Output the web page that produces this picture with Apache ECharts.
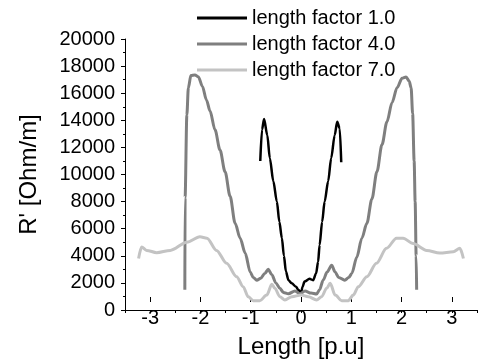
<!DOCTYPE html>
<html>
<head>
<meta charset="utf-8">
<script src="https://cdn.jsdelivr.net/npm/echarts@6/dist/echarts.min.js"></script>
<style>html,body{margin:0;padding:0;background:#fff}#c{width:483px;height:364px}</style>
</head>
<body>
<div id="c"></div>
<script>
const seriesNames = ['length factor 1.0', 'length factor 4.0', 'length factor 7.0'];
const seriesColors = ['#000000', '#7f7f7f', '#c3c3c3'];

const x1 = [-0.81,-0.775,-0.735,-0.67,-0.62,-0.55,-0.48,-0.43,-0.38,-0.34,-0.30,-0.25,-0.185,-0.10,-0.05,0,0.03,0.07,0.17,0.24,0.30,0.34,0.37,0.42,0.47,0.54,0.60,0.67,0.72,0.77,0.80];
const y1 = [11000,13300,14100,12900,11200,9500,8000,6500,5300,4000,2850,2200,1970,1720,1480,1230,1700,2100,2300,2200,2700,3560,4800,6500,8000,9500,11200,12900,13900,13400,10900];

const x4 = [-2.31,-2.305,-2.27,-2.24,-2.19,-2.11,-2.04,-1.96,-1.88,-1.81,-1.71,-1.61,-1.51,-1.41,-1.31,-1.21,-1.11,-1.01,-0.95,-0.88,-0.80,-0.72,-0.65,-0.58,-0.50,-0.42,-0.35,-0.25,-0.12,-0.02,0.08,0.20,0.31,0.37,0.44,0.52,0.61,0.68,0.75,0.87,0.95,1.01,1.11,1.21,1.31,1.41,1.51,1.61,1.71,1.81,1.91,2.01,2.09,2.15,2.19,2.22,2.25,2.27,2.29,2.30];
const y4 = [1500,8300,14400,16400,17300,17350,17200,16500,15500,14700,13300,11800,10200,8400,6400,5300,4200,2800,2400,2200,2350,2700,3000,2600,2000,1600,1300,1200,1400,1200,1400,1250,1180,1500,2200,2800,3300,2800,2400,2200,2400,2700,3900,5300,6400,8200,10200,12200,13900,15300,16400,17100,17200,16900,16400,14500,11000,8000,4000,1500];

const x7 = [-3.23,-3.17,-3.07,-2.87,-2.6,-2.27,-2.01,-1.87,-1.68,-1.48,-1.28,-1.15,-1.05,-0.95,-0.82,-0.68,-0.58,-0.52,-0.42,-0.32,-0.18,0,0.15,0.31,0.41,0.51,0.58,0.68,0.81,0.94,1.04,1.14,1.31,1.50,1.70,1.90,2.03,2.23,2.50,2.76,3.03,3.16,3.23];
const y7 = [3800,4650,4400,4230,4400,5000,5400,5300,4400,3450,2460,1720,980,690,690,1100,1900,1600,980,740,980,1100,980,740,980,1600,1970,1100,690,690,1100,1720,2460,3450,4550,5300,5300,4900,4400,4200,4300,4550,3800];

const yTicks = {min: 0, max: 20000, interval: 2000};
const xTicks = {min: -3, max: 3, interval: 1};
const xExtent = {min: -3.5, max: 3.5, minorInterval: 0.5};

const zip = (xs, ys) => xs.map((x, i) => [x, ys[i]]);
const FONT = 'Liberation Sans';

const chart = echarts.init(document.getElementById('c'));
const gridLeft = 125, gridRight = 6;
const plotW = 483 - gridLeft - gridRight;
const half = plotW * 0.5 / (xExtent.max - xExtent.min);

chart.setOption({
  animation: false,
  backgroundColor: '#ffffff',
  textStyle: {fontFamily: FONT, color: '#000'},
  legend: {
    orient: 'vertical', left: 192, top: 3, padding: 5,
    itemWidth: 50, itemHeight: 3, itemGap: 6,
    textStyle: {fontFamily: FONT, fontSize: 20, lineHeight: 20, color: '#000'},
    data: seriesNames.map((n) => ({name: n, icon: 'rect'}))
  },
  grid: [
    {left: gridLeft, right: gridRight, top: 39, bottom: 54},
    {left: gridLeft + half, right: gridRight + half, top: 39, bottom: 54}
  ],
  xAxis: [
    {
      type: 'value', gridIndex: 0, min: xExtent.min, max: xExtent.max, interval: xExtent.minorInterval,
      axisLine: {show: true, onZero: false, lineStyle: {color: '#000', width: 1}},
      axisTick: {show: true, length: 3, lineStyle: {color: '#000'}},
      axisLabel: {show: false},
      splitLine: {show: false}
    },
    {
      type: 'value', gridIndex: 1, min: xTicks.min, max: xTicks.max, interval: xTicks.interval,
      axisLine: {show: false, onZero: false},
      axisTick: {show: true, length: 5, lineStyle: {color: '#000'}},
      axisLabel: {show: true, fontSize: 20, color: '#000', fontFamily: FONT, margin: 11},
      splitLine: {show: false},
      name: 'Length [p.u]', nameLocation: 'middle', nameGap: 38,
      nameTextStyle: {fontSize: 24, color: '#000', fontFamily: FONT}
    }
  ],
  yAxis: [
    {
      type: 'value', gridIndex: 0, min: yTicks.min, max: yTicks.max, interval: yTicks.interval,
      axisLine: {show: true, onZero: false, lineStyle: {color: '#000', width: 1}},
      axisTick: {show: true, length: 4, lineStyle: {color: '#000'}},
      minorTick: {show: true, splitNumber: 2, length: 2, lineStyle: {color: '#000'}},
      axisLabel: {fontSize: 20, color: '#000', fontFamily: FONT, margin: 10, formatter: (v) => String(v)},
      splitLine: {show: false},
      name: "R' [Ohm/m]", nameLocation: 'middle', nameGap: 84,
      nameTextStyle: {fontSize: 24, color: '#000', fontFamily: FONT}
    },
    {type: 'value', gridIndex: 1, min: 0, max: 1, show: false,
     axisLine: {show: false, onZero: false}, axisTick: {show: false}, axisLabel: {show: false}, splitLine: {show: false}}
  ],
  series: [
    {name: seriesNames[0], type: 'line', data: zip(x1, y1), symbol: 'none', smooth: 0.3, smoothMonotone: 'x',
     lineStyle: {color: seriesColors[0], width: 2.5}, itemStyle: {color: seriesColors[0]}},
    {name: seriesNames[1], type: 'line', data: zip(x4, y4), symbol: 'none', smooth: 0.3, smoothMonotone: 'x',
     lineStyle: {color: seriesColors[1], width: 3}, itemStyle: {color: seriesColors[1]}},
    {name: seriesNames[2], type: 'line', data: zip(x7, y7), symbol: 'none', smooth: 0.3, smoothMonotone: 'x',
     lineStyle: {color: seriesColors[2], width: 3}, itemStyle: {color: seriesColors[2]}}
  ]
});
</script>
</body>
</html>
